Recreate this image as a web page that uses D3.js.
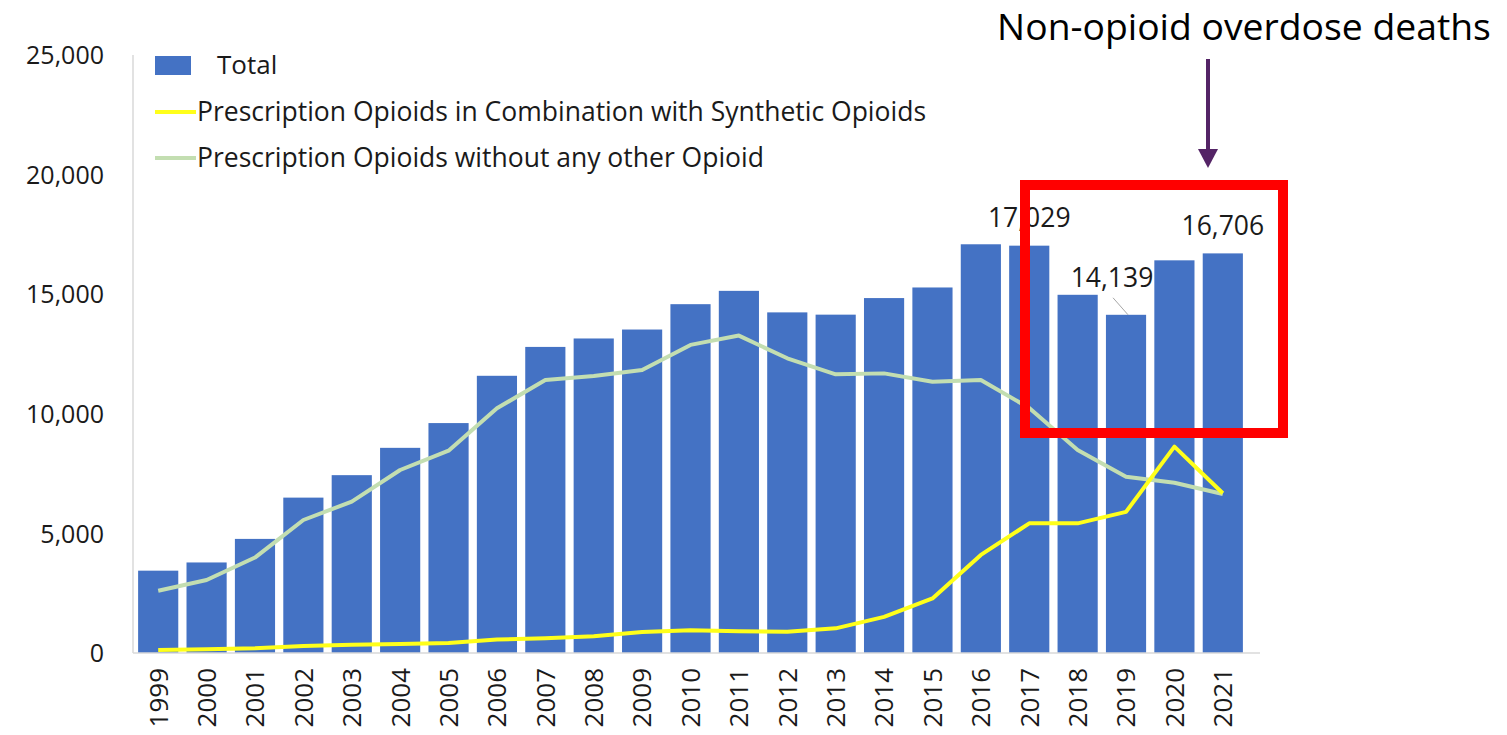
<!DOCTYPE html>
<html>
<head>
<meta charset="utf-8">
<script src="https://cdn.jsdelivr.net/npm/d3@7"></script>
<style>
  html, body { margin: 0; padding: 0; background: #ffffff; }
  svg { display: block; font-family: "Open Sans", "DejaVu Sans", sans-serif; }
</style>
</head>
<body>
<svg id="chart" width="1507" height="735"></svg>
<script>
// Prescription opioid overdose deaths, United States, 1999–2021
const years = ["1999","2000","2001","2002","2003","2004","2005","2006","2007","2008","2009","2010",
               "2011","2012","2013","2014","2015","2016","2017","2018","2019","2020","2021"];
const totalDeaths = [3442, 3785, 4770, 6496, 7435, 8577, 9612, 11589, 12796, 13149, 13523, 14583,
                     15140, 14240, 14145, 14838, 15281, 17087, 17029, 14975, 14139, 16416, 16706];
const withSynthetic = [130, 160, 200, 290, 340, 380, 420, 560, 620, 700, 880, 950,
                       910, 890, 1030, 1510, 2280, 4100, 5420, 5420, 5900, 8630, 6680];
const withoutOther = [2605, 3050, 3990, 5560, 6330, 7650, 8460, 10230, 11410, 11580, 11830, 12880,
                      13270, 12320, 11650, 11690, 11340, 11410, 10240, 8490, 7370, 7120, 6650];
const yTicks = [0, 5000, 10000, 15000, 20000, 25000];
const labelledYears = ["2017", "2019", "2021"];
const legendLabels = ["Total",
                      "Prescription Opioids in Combination with Synthetic Opioids",
                      "Prescription Opioids without any other Opioid"];
const annotationText = "Non-opioid overdose deaths";

const BAR = "#4472C4", YELLOW = "#FFFF1A", GREEN = "#C3DEB1", TEXT = "#1a1a1a", AXIS = "#D9D9D9";

const svg = d3.select("#chart");

const x = d3.scaleBand().domain(years).range([134, 1247]).paddingInner(0.17).paddingOuter(0.085);
const y = d3.scaleLinear().domain([0, 25000]).range([653, 55]);
const fmt = d3.format(",");
const cx = yr => x(yr) + x.bandwidth() / 2;

// Bars
svg.append("g").selectAll("rect").data(years).join("rect")
  .attr("x", d => x(d)).attr("width", x.bandwidth())
  .attr("y", (d, i) => y(totalDeaths[i]))
  .attr("height", (d, i) => y(0) - y(totalDeaths[i]))
  .attr("fill", BAR);

// Axis lines
svg.append("line").attr("x1", 133).attr("x2", 133).attr("y1", y(25000)).attr("y2", y(0))
  .attr("stroke", AXIS).attr("stroke-width", 1.5);
svg.append("line").attr("x1", 133).attr("x2", 1260).attr("y1", y(0)).attr("y2", y(0))
  .attr("stroke", AXIS).attr("stroke-width", 1.5);

// Y axis labels
const yAxis = d3.axisLeft(y).tickValues(yTicks).tickFormat(fmt).tickSize(0).tickPadding(0);
const yg = svg.append("g").attr("transform", "translate(104,0)").call(yAxis);
yg.select(".domain").remove();
yg.selectAll("text").attr("font-size", 25).attr("fill", TEXT)
  .attr("font-family", "'Open Sans', sans-serif").attr("dy", "0.35em");

// X axis labels (rotated)
const xAxis = d3.axisBottom(x).tickSize(0).tickPadding(0);
const xg = svg.append("g").attr("transform", `translate(0,${y(0)})`).call(xAxis);
xg.select(".domain").remove();
xg.selectAll("text")
  .attr("font-size", 26).attr("fill", TEXT).attr("font-family", "'Open Sans', sans-serif")
  .attr("text-anchor", "end")
  .attr("transform", "translate(0,15) rotate(-90)")
  .attr("x", 0).attr("y", 0).attr("dy", "0.36em");

// Lines
const line = d3.line().x((d, i) => cx(years[i])).y(d => y(d));
svg.append("path").datum(withoutOther).attr("d", line)
  .attr("fill", "none").attr("stroke", GREEN).attr("stroke-width", 4).attr("stroke-linejoin", "round");
svg.append("path").datum(withSynthetic).attr("d", line)
  .attr("fill", "none").attr("stroke", YELLOW).attr("stroke-width", 4).attr("stroke-linejoin", "round");

// Value labels on selected bars
labelledYears.forEach(yr => {
  const i = years.indexOf(yr);
  const v = totalDeaths[i];
  let lx = cx(yr), ly = y(v) - 18;
  if (yr === "2019") {
    lx = cx(yr) - 14; ly = y(v) - 28;
    svg.append("line").attr("x1", lx + 1).attr("y1", ly + 11).attr("x2", cx(yr) + 2).attr("y2", y(v))
      .attr("stroke", "#a6a6a6").attr("stroke-width", 1);
  } else if (yr === "2017") {
    ly = y(v) - 19;
  }
  svg.append("text").attr("x", lx).attr("y", ly).attr("text-anchor", "middle")
    .attr("font-size", 26.5).attr("fill", TEXT).text(fmt(v));
});

// Legend
const lg = svg.append("g");
lg.append("rect").attr("x", 155).attr("y", 56).attr("width", 36).attr("height", 19).attr("fill", BAR);
lg.append("text").attr("x", 217).attr("y", 65).attr("dy", "0.35em").attr("font-size", 26)
  .attr("fill", TEXT).text(legendLabels[0]);
lg.append("line").attr("x1", 155).attr("x2", 196).attr("y1", 112).attr("y2", 112)
  .attr("stroke", YELLOW).attr("stroke-width", 4);
lg.append("text").attr("x", 197).attr("y", 112).attr("dy", "0.35em").attr("font-size", 26.5)
  .attr("fill", TEXT).text(legendLabels[1]);
lg.append("line").attr("x1", 155).attr("x2", 196).attr("y1", 158).attr("y2", 158)
  .attr("stroke", GREEN).attr("stroke-width", 4);
lg.append("text").attr("x", 197).attr("y", 158).attr("dy", "0.35em").attr("font-size", 26.5)
  .attr("fill", TEXT).text(legendLabels[2]);

// Highlight box around 2018–2021
svg.append("rect").attr("x", 1025).attr("y", 185).attr("width", 258).attr("height", 248)
  .attr("fill", "none").attr("stroke", "#FF0000").attr("stroke-width", 10);

// Annotation arrow and text
svg.append("line").attr("x1", 1208).attr("x2", 1208).attr("y1", 59).attr("y2", 150)
  .attr("stroke", "#542466").attr("stroke-width", 4);
svg.append("path").attr("d", "M1198,149 L1218,149 L1208,168 Z").attr("fill", "#542466");
svg.append("text").attr("x", 1244).attr("y", 40).attr("text-anchor", "middle")
  .attr("font-size", 37.3).attr("fill", "#000").text(annotationText);
</script>
</body>
</html>
